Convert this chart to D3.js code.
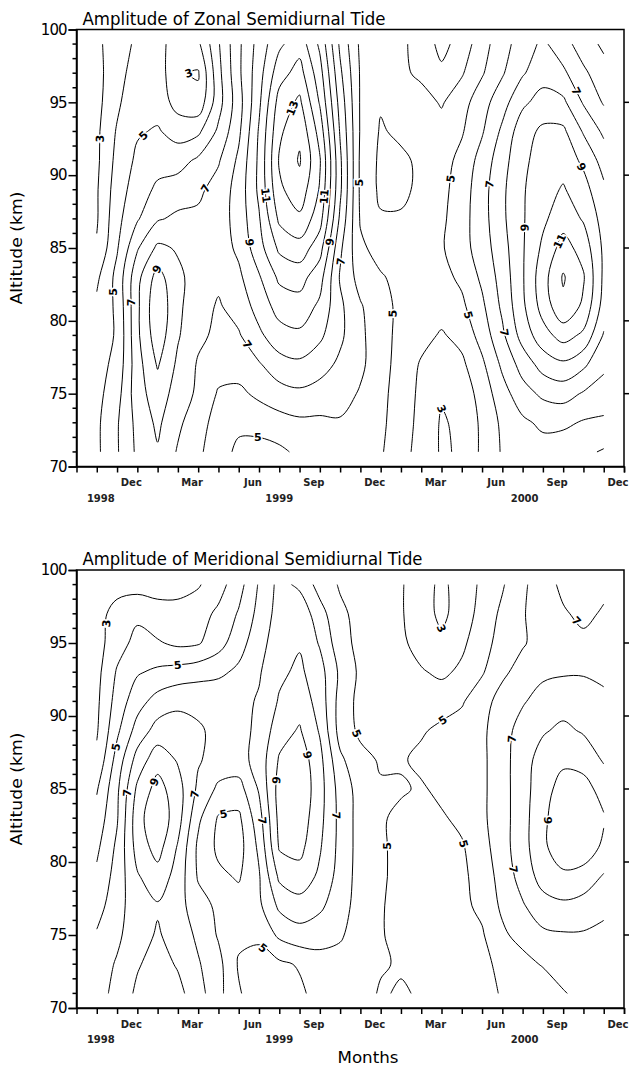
<!DOCTYPE html>
<html>
<head>
<meta charset="utf-8">
<script src="https://cdn.jsdelivr.net/npm/d3@7"></script>
<style>
  body { margin: 0; background: #fff; }
</style>
</head>
<body>
<script>
/* global d3 */

// Grid: columns are months counted from 1 Sep 1998, rows are altitudes in km (top row first)
const months = [1, 2, 3, 4, 5, 6, 7, 8, 9, 10, 11, 12, 13, 14, 15, 16, 17, 18, 19, 20, 21, 22, 23, 24, 25, 26];
const altitudes = [99, 97, 95, 93, 91, 89, 87, 85, 83, 81, 79, 77, 75, 73, 71];

// Contour levels (m/s)
const levels = [1, 2, 3, 4, 5, 6, 7, 8, 9, 10, 11, 12, 13, 14, 15];

// Tick labels
const monthLabels = ['Dec', 'Mar', 'Jun', 'Sep', 'Dec', 'Mar', 'Jun', 'Sep', 'Dec'];
const monthLabelAt = [3, 6, 9, 12, 15, 18, 21, 24, 27];
const yearLabels = ['1998', '1999', '2000'];
const yearLabelAt = [1.2, 10, 22.1];
const altTicks = [70, 75, 80, 85, 90, 95, 100];

// Zonal semidiurnal tide amplitude
const zonal = [
  [2.8, 3.5, 4.2, 4.5, 3.3, 3.8, 5.9, 7.8, 9.4, 10.8, 11.6, 9.8, 6.8, 4.8, 4.4, 4.2, 3.6, 2.7, 3.4, 4.6, 5.6, 6.5, 7.2, 6.4, 5.5, 4.8],
  [2.7, 3.6, 4.5, 4.6, 3.1, 2.9, 5.7, 7.8, 9.6, 11.6, 12.4, 10.4, 7.2, 4.9, 4.1, 4.2, 3.8, 3.2, 3.9, 4.9, 5.9, 6.9, 7.6, 7.2, 6.2, 5.4],
  [2.7, 3.8, 4.8, 4.6, 3.6, 3.3, 5.6, 7.6, 9.8, 12.4, 13.2, 10.9, 7.6, 4.9, 4.1, 4.5, 4.4, 3.9, 4.6, 5.6, 6.6, 7.8, 8.4, 8.2, 6.9, 5.9],
  [2.8, 4.1, 4.9, 5.1, 4.6, 4.8, 6.2, 7.8, 10.1, 12.8, 13.8, 11.6, 7.9, 4.9, 3.9, 4.2, 4.3, 4.4, 4.9, 5.9, 7.2, 8.6, 9.2, 9.2, 7.9, 6.8],
  [2.8, 4.3, 5.2, 5.6, 5.6, 6.2, 6.9, 8.2, 10.2, 13.1, 14.1, 12.1, 8.2, 4.8, 3.8, 3.8, 4.2, 4.6, 5.3, 6.4, 7.6, 8.8, 9.4, 9.6, 8.8, 7.6],
  [2.9, 4.5, 5.5, 6.2, 6.5, 6.8, 7.4, 8.4, 10.2, 12.8, 13.6, 11.9, 8.2, 4.8, 3.8, 3.8, 4.2, 4.7, 5.5, 6.6, 7.8, 8.9, 9.6, 10.1, 9.4, 8.2],
  [2.9, 4.7, 5.9, 6.9, 7.2, 7.2, 7.5, 8.4, 9.9, 12.2, 12.8, 11.4, 7.8, 4.9, 4.1, 4.1, 4.3, 4.8, 5.6, 6.6, 7.8, 8.9, 9.8, 10.6, 9.9, 8.6],
  [3.1, 4.9, 6.9, 8.2, 7.9, 7.6, 7.5, 8.2, 9.6, 11.2, 11.6, 10.4, 7.2, 5.2, 4.6, 4.4, 4.6, 4.9, 5.6, 6.5, 7.6, 8.9, 10.2, 11.4, 10.6, 8.8],
  [3.8, 5.3, 7.7, 9.4, 8.2, 7.6, 7.2, 7.8, 8.9, 10.2, 10.4, 9.4, 6.9, 5.6, 5.1, 4.7, 4.6, 4.7, 5.2, 6.2, 7.4, 8.9, 10.6, 12.1, 11.1, 8.8],
  [4.2, 5.2, 7.8, 9.8, 8.2, 7.4, 6.9, 7.4, 8.4, 9.4, 9.6, 8.8, 7.2, 6.1, 5.3, 4.8, 4.5, 4.4, 4.8, 5.8, 7.2, 8.8, 10.4, 11.8, 10.8, 8.6],
  [4.5, 5.1, 7.8, 9.6, 8.1, 7.2, 6.8, 6.9, 7.8, 8.6, 8.8, 8.2, 7.2, 6.2, 5.4, 4.7, 4.3, 3.9, 4.3, 5.4, 6.8, 8.4, 9.6, 10.4, 9.8, 7.9],
  [4.6, 5.3, 7.6, 9.1, 7.8, 6.9, 6.4, 6.4, 6.9, 7.6, 7.8, 7.4, 6.8, 6.2, 5.4, 4.6, 3.9, 3.5, 3.8, 4.8, 6.2, 7.4, 8.4, 8.8, 8.2, 7.2],
  [4.7, 5.6, 7.6, 8.5, 7.6, 6.8, 5.9, 5.8, 6.2, 6.6, 6.8, 6.6, 6.4, 5.9, 5.3, 4.5, 3.8, 3.1, 3.4, 4.4, 5.6, 6.6, 7.2, 7.4, 6.9, 6.6],
  [4.8, 5.9, 7.3, 8.2, 7.2, 6.4, 5.6, 5.2, 5.4, 5.6, 5.8, 5.8, 5.9, 5.8, 5.2, 4.5, 3.7, 2.9, 3.2, 4.2, 5.2, 5.8, 6.2, 6.2, 5.9, 5.8],
  [4.8, 5.9, 7.2, 7.9, 6.9, 6.2, 5.4, 4.8, 4.6, 4.8, 5.2, 5.4, 5.8, 5.7, 5.1, 4.4, 3.6, 2.9, 3.1, 4.2, 5.1, 5.4, 5.6, 5.4, 5.2, 4.9]
];

// Meridional semidiurnal tide amplitude
const meridional = [
  [2.8, 2.7, 2.6, 2.6, 2.7, 2.9, 3.6, 4.6, 6.1, 7.3, 6.8, 5.6, 4.9, 4.6, 4.3, 4.1, 3.4, 2.8, 3.4, 4.2, 4.9, 5.8, 6.6, 7.2, 7.4, 7.2],
  [2.7, 3.3, 3.8, 3.4, 3.3, 3.6, 4.2, 5.1, 6.3, 7.4, 7.7, 6.4, 5.2, 4.7, 4.4, 4.1, 3.4, 2.8, 3.4, 4.4, 5.2, 5.9, 6.6, 6.9, 7.2, 6.9],
  [2.6, 3.6, 4.3, 4.1, 3.8, 3.9, 4.6, 5.6, 6.6, 7.6, 7.9, 6.9, 5.4, 4.7, 4.4, 4.2, 3.6, 3.2, 3.8, 4.6, 5.4, 5.9, 6.4, 6.6, 6.8, 6.8],
  [2.7, 4.1, 4.9, 5.2, 5.4, 5.6, 5.8, 6.2, 6.9, 7.8, 8.2, 7.4, 5.8, 4.8, 4.5, 4.3, 4.1, 3.8, 4.2, 4.9, 5.8, 6.4, 6.8, 6.9, 6.9, 6.8],
  [2.8, 4.4, 5.6, 6.4, 6.8, 6.8, 6.7, 6.7, 7.1, 8.1, 8.6, 7.6, 5.6, 4.7, 4.5, 4.4, 4.4, 4.6, 4.9, 5.6, 6.4, 6.9, 7.4, 7.6, 7.6, 7.2],
  [2.9, 4.8, 6.4, 7.4, 7.4, 7.1, 6.8, 6.7, 7.2, 8.6, 9.1, 7.9, 5.6, 4.8, 4.8, 4.8, 4.9, 5.2, 5.4, 5.8, 6.6, 7.4, 7.9, 8.2, 7.9, 7.6],
  [3.2, 5.4, 7.4, 8.6, 7.9, 7.1, 6.6, 6.6, 7.4, 9.1, 9.6, 8.3, 6.2, 5.3, 4.9, 4.9, 5.2, 5.4, 5.4, 5.8, 6.6, 7.6, 8.4, 8.8, 8.6, 7.9],
  [3.9, 5.8, 8.2, 9.4, 8.4, 6.8, 5.8, 5.6, 7.1, 9.4, 9.8, 8.4, 6.6, 5.6, 5.1, 5.1, 4.9, 5.2, 5.4, 5.8, 6.6, 7.6, 8.6, 9.4, 9.4, 8.6],
  [4.4, 5.9, 8.6, 9.8, 8.4, 6.2, 4.9, 4.8, 6.6, 9.3, 9.6, 8.3, 6.7, 5.6, 5.1, 4.8, 4.8, 4.9, 5.2, 5.8, 6.6, 7.6, 8.8, 9.6, 9.8, 9.1],
  [4.8, 6.2, 8.4, 9.4, 7.9, 5.8, 4.8, 4.6, 6.2, 9.1, 9.3, 8.1, 6.7, 5.6, 5.1, 4.8, 4.8, 4.8, 4.9, 5.6, 6.6, 7.6, 8.8, 9.6, 9.6, 8.8],
  [5.2, 6.4, 7.9, 8.6, 7.6, 5.9, 5.2, 4.9, 5.9, 8.2, 8.6, 7.8, 6.6, 5.6, 5.1, 4.8, 4.6, 4.6, 4.8, 5.4, 6.4, 7.4, 8.4, 8.8, 8.6, 7.9],
  [5.6, 6.6, 7.6, 7.9, 7.4, 6.4, 5.8, 5.4, 5.8, 7.2, 7.6, 7.2, 6.4, 5.6, 5.1, 4.6, 4.6, 4.6, 4.8, 5.2, 6.2, 6.9, 7.6, 7.8, 7.6, 7.2],
  [6.1, 6.8, 7.6, 8.1, 7.6, 6.8, 5.9, 5.2, 5.2, 6.2, 6.6, 6.4, 6.1, 5.6, 5.1, 4.6, 4.8, 4.8, 4.8, 4.9, 5.8, 6.4, 6.8, 6.9, 6.9, 6.8],
  [6.5, 7.1, 7.9, 8.4, 7.9, 7.1, 6.3, 4.9, 4.6, 4.8, 5.1, 5.6, 5.7, 5.4, 5.1, 4.9, 4.9, 4.9, 4.8, 4.8, 5.2, 5.6, 6.1, 6.6, 6.8, 6.8],
  [6.6, 7.3, 8.2, 8.6, 8.3, 7.4, 6.3, 5.1, 4.4, 4.4, 4.8, 5.4, 5.6, 5.4, 4.9, 5.1, 4.9, 4.7, 4.6, 4.6, 5.1, 5.6, 5.2, 5.9, 6.4, 6.6]
];

// SVG setup
const width = 632;
const height = 1069;

const svg = d3.select('body')
.append('svg')
.attr('width', width)
.attr('height', height)
.style('font-family', '"DejaVu Sans", sans-serif');

// x: months since 1 Sep 1998
const xScale = d3.scaleLinear()
.domain([0, 27])
.range([76.5, 624]);

const lineGen = d3.line().curve(d3.curveCatmullRom.alpha(0.5));
const closedGen = d3.line().curve(d3.curveCatmullRomClosed.alpha(0.5));

// split a contour ring into the isoline pieces that are inside the grid
function splitRing(ring, nx, ny) {
  const pts = ring.slice(0, -1);
  const onEdge = p => p[0] <= 0 || p[0] >= nx || p[1] <= 0 || p[1] >= ny;
  const start = pts.findIndex(onEdge);
  if (start < 0) return [{ closed: true, pts }];
  const runs = [];
  let cur = [];
  for (let k = 1; k <= pts.length; k++) {
    const p = pts[(start + k) % pts.length];
    if (onEdge(p)) {
      if (cur.length > 1) runs.push({ closed: false, pts: cur });
      cur = [];
    } else {
      cur.push(p);
    }
  }
  return runs;
}

function drawPanel(values, title, top, bottom, titleLength, withXTitle) {
  const yScale = d3.scaleLinear().domain([70, 100]).range([bottom, top]);
  const left = xScale.range()[0];
  const right = xScale.range()[1];
  const g = svg.append('g');

  const nx = months.length;
  const ny = altitudes.length;
  const mStep = months[1] - months[0];
  const aStep = altitudes[1] - altitudes[0];
  const toPx = p => [
    xScale(months[0] + (p[0] - 0.5) * mStep),
    yScale(altitudes[0] + (p[1] - 0.5) * aStep)
  ];

  const contours = d3.contours()
  .size([nx, ny])
  .thresholds(levels)(values.flat());

  const lines = [];
  contours.forEach(c => {
    c.coordinates.forEach(poly => poly.forEach(ring => {
      splitRing(ring, nx, ny).forEach(run => {
        lines.push({ level: c.value, closed: run.closed, pts: run.pts.map(toPx) });
      });
    }));
  });

  g.append('g')
  .selectAll('path')
  .data(lines)
  .enter()
  .append('path')
  .attr('d', d => d.closed ? closedGen(d.pts) : lineGen(d.pts))
  .attr('fill', 'none')
  .attr('stroke', '#000')
  .attr('stroke-width', 1);

  // contour labels on odd levels
  const labels = [];
  lines.forEach(l => {
    if (l.level % 2 === 0) return;
    const pts = l.pts;
    let len = 0;
    const cum = [0];
    for (let i = 1; i < pts.length; i++) {
      len += Math.hypot(pts[i][0] - pts[i - 1][0], pts[i][1] - pts[i - 1][1]);
      cum.push(len);
    }
    if (len < (l.closed ? 25 : 45)) return;
    const nLab = len > 260 ? 2 : 1;
    for (let k = 0; k < nLab; k++) {
      const target = len * (k + 1) / (nLab + 1);
      let i = cum.findIndex(c => c >= target);
      i = Math.max(1, Math.min(pts.length - 1, i));
      const a = pts[i - 1];
      const b = pts[i];
      const t = (target - cum[i - 1]) / ((cum[i] - cum[i - 1]) || 1);
      const px = a[0] + (b[0] - a[0]) * t;
      const py = a[1] + (b[1] - a[1]) * t;
      let ang = Math.atan2(b[1] - a[1], b[0] - a[0]) * 180 / Math.PI;
      if (ang > 90) ang -= 180;
      if (ang < -90) ang += 180;
      labels.push({ text: l.level, x: px, y: py, ang });
    }
  });

  g.append('g')
  .selectAll('text')
  .data(labels)
  .enter()
  .append('text')
  .attr('transform', d => `translate(${d.x},${d.y}) rotate(${d.ang})`)
  .attr('text-anchor', 'middle')
  .attr('dy', '0.36em')
  .attr('font-size', '11px')
  .attr('font-weight', 'bold')
  .attr('stroke', '#fff')
  .attr('stroke-width', 3)
  .attr('paint-order', 'stroke')
  .attr('fill', '#000')
  .text(d => d.text);

  // frame
  g.append('rect')
  .attr('x', left)
  .attr('y', top)
  .attr('width', right - left)
  .attr('height', bottom - top)
  .attr('fill', 'none')
  .attr('stroke', '#000')
  .attr('stroke-width', 1.5);

  // y axis
  const yAxis = d3.axisLeft(yScale)
  .tickValues(altTicks)
  .tickSize(8)
  .tickPadding(2)
  .tickFormat(d3.format('d'));
  const ya = g.append('g')
  .attr('transform', `translate(${left},0)`)
  .call(yAxis);
  ya.select('.domain').attr('stroke-width', 1.5);
  ya.selectAll('.tick line').attr('stroke-width', 1.5);
  ya.selectAll('text')
  .attr('font-size', '15px')
  .attr('font-family', '"DejaVu Sans", sans-serif')
  .attr('letter-spacing', '-1px')
  .attr('fill', '#000');

  const minor = d3.range(70, 101).filter(v => v % 5 !== 0);
  g.append('g')
  .selectAll('line')
  .data(minor)
  .enter()
  .append('line')
  .attr('x1', left - 4)
  .attr('x2', left)
  .attr('y1', d => yScale(d))
  .attr('y2', d => yScale(d))
  .attr('stroke', '#000')
  .attr('stroke-width', 1.5);

  // right side ticks
  g.append('g')
  .selectAll('line')
  .data(altTicks.slice(1, -1))
  .enter()
  .append('line')
  .attr('x1', right)
  .attr('x2', right + 5)
  .attr('y1', d => yScale(d))
  .attr('y2', d => yScale(d))
  .attr('stroke', '#000')
  .attr('stroke-width', 1.5);

  // x axis: one tick per month
  const xAxis = d3.axisBottom(xScale)
  .tickValues(d3.range(1, 28))
  .tickSize(6)
  .tickFormat('');
  const xa = g.append('g')
  .attr('transform', `translate(0,${bottom})`)
  .call(xAxis);
  xa.select('.domain').attr('stroke-width', 1.5);
  xa.selectAll('.tick line').attr('stroke-width', 1.5);

  g.append('g')
  .selectAll('text')
  .data(monthLabels)
  .enter()
  .append('text')
  .attr('x', (d, i) => xScale(monthLabelAt[i]) - 6)
  .attr('y', bottom + 19.5)
  .attr('text-anchor', 'middle')
  .attr('font-size', '10px')
  .attr('font-weight', 'bold')
  .attr('fill', '#222')
  .text(d => d);

  g.append('g')
  .selectAll('text')
  .data(yearLabels)
  .enter()
  .append('text')
  .attr('x', (d, i) => xScale(yearLabelAt[i]))
  .attr('y', bottom + 35)
  .attr('text-anchor', 'middle')
  .attr('font-size', '10px')
  .attr('font-weight', 'bold')
  .attr('fill', '#222')
  .text(d => d);

  // titles
  g.append('text')
  .attr('x', left + 6)
  .attr('y', top - 5)
  .attr('font-size', '17px')
  .attr('textLength', titleLength)
  .attr('lengthAdjust', 'spacingAndGlyphs')
  .attr('fill', '#000')
  .text(title);

  g.append('text')
  .attr('transform', `translate(22,${(top + bottom) / 2}) rotate(-90)`)
  .attr('text-anchor', 'middle')
  .attr('font-size', '15px')
  .attr('textLength', 113)
  .attr('lengthAdjust', 'spacingAndGlyphs')
  .attr('fill', '#000')
  .text('Altitude (km)');

  if (withXTitle) {
    g.append('text')
    .attr('x', 368)
    .attr('y', bottom + 55)
    .attr('text-anchor', 'middle')
    .attr('font-size', '16px')
    .attr('textLength', 61)
    .attr('lengthAdjust', 'spacingAndGlyphs')
    .attr('fill', '#000')
    .text('Months');
  }
}

drawPanel(zonal, 'Amplitude of Zonal Semidiurnal Tide', 29.5, 466.5, 303, false);
drawPanel(meridional, 'Amplitude of Meridional Semidiurnal Tide', 570, 1008, 340, true);
</script>
</body>
</html>
